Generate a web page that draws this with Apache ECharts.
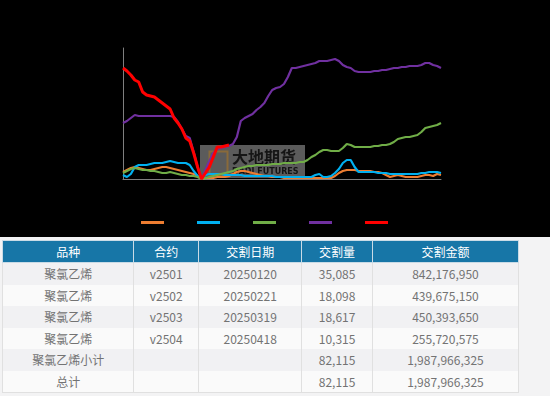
<!DOCTYPE html>
<html>
<head>
<meta charset="utf-8">
<script src="https://cdn.jsdelivr.net/npm/echarts@6/dist/echarts.min.js"></script>
<style>
  html, body { margin: 0; padding: 0; width: 550px; height: 396px; background: #f3f3f4; overflow: hidden; }
  #chart { width: 550px; height: 237px; background: #000; }
  #tbl { position: absolute; left: 2px; top: 240px; width: 517px; border-collapse: collapse;
         font-family: "Noto Sans CJK SC", "Noto Sans", sans-serif; font-size: 12px; color: #737373; }
  #tbl th { background: #1776a7; color: #fff; font-weight: normal; height: 21px; padding: 0;
            border: 1px solid #c9dbe6; text-align: center; }
  #tbl td { height: 21.5px; padding: 0; text-align: center; border-left: 1px solid #e0e0e0; border-right: 1px solid #e0e0e0; }
  #tbl tr:last-child td { border-bottom: 1px solid #e0e0e0; }
  #tbl tr.odd td { background: #f1f1f3; }
  #tbl tr.even td { background: #fafafa; }
</style>
</head>
<body>
<div id="chart"></div>
<table id="tbl"></table>
<script>
// ---------- chart data ----------
const xIndex = Array.from({length: 82}, (_, i) => String(i + 1));
const seriesNames = ['系列1', '系列2', '系列3', '系列4', '系列5'];
const seriesColors = ['#ED7D31', '#00B0F0', '#70AD47', '#7030A0', '#FF0000'];
const orangeValues = [7,9,11,12,11,10,9,9,10,11,12,12,11,10,9,8,7,6,5,3,0,
  1,1,1,2,2,2,3,5,7,8,8,7,6,5,4,3,3,2,2,2,1,1,1,1,1,1,1,1,1,1,1,1,1,3,6,8,9,9,9,8,8,8,8,7,7,6,4,2,3,4,3,2,2,2,2,3,4,4,3,5,4];
const blueValues = [4,2,5,12,14,14,14,15,16,16,16,17,18,17,16,16,16,14,8,3,0,
  4,5,5,5,5,4,4,4,4,4,3,3,3,3,3,3,3,3,2,2,2,2,2,2,2,2,2,2,4,5,2,2,3,6,10,16,19,19,12,7,7,7,7,7,6,6,6,5,5,5,5,5,5,5,5,6,6,7,7,7,6];
const greenValues = [6,8,10,11,10,9,9,8,8,7,6,6,7,6,5,4,4,3,3,2,0,
  1,2,3,4,5,6,7,8,10,11,12,13,13,14,14,14,14,15,15,15,16,16,16,16,17,17,19,22,24,27,29,29,28,28,28,31,35,34,32,32,32,32,32,33,33,34,34,35,37,40,41,42,42,43,44,47,51,52,53,54,56];
const purpleValues = [56,58,61,64,63,63,63,63,63,63,63,63,63,62,57,50,43,41,27,12,0,
  9,18,26,30,31,32,33,35,42,58,61,63,65,69,72,76,83,89,91,92,95,102,111,111,112,113,114,115,116,118,118,118,119,120,118,114,112,111,108,107,107,107,107,108,108,109,109,110,111,111,112,112,113,113,113,114,116,116,114,113,111];
const redValues = [111,108,104,99,97,87,84,83,82,79,76,73,70,61,56,50,41,38,26,12,0,
  6,12,22,32,32,33,34];

// ---------- table data ----------
const tableHeaders = ['品种', '合约', '交割日期', '交割量', '交割金额'];
const colVariety = ['聚氯乙烯', '聚氯乙烯', '聚氯乙烯', '聚氯乙烯', '聚氯乙烯小计', '总计'];
const colContract = ['v2501', 'v2502', 'v2503', 'v2504', '', ''];
const colDate = ['20250120', '20250221', '20250319', '20250418', '', ''];
const colVolume = ['35,085', '18,098', '18,617', '10,315', '82,115', '82,115'];
const colAmount = ['842,176,950', '439,675,150', '450,393,650', '255,720,575', '1,987,966,325', '1,987,966,325'];
const colWidths = [132, 64, 103, 70, 146];

// ---------- build chart ----------
const allValues = [orangeValues, blueValues, greenValues, purpleValues, redValues];
const chart = echarts.init(document.getElementById('chart'), null, {renderer: 'canvas'});
chart.setOption({
  backgroundColor: '#000',
  animation: false,
  grid: { left: 123, right: 109, top: 48, bottom: 58 },
  legend: {
    bottom: 8, left: 136,
    icon: 'rect', itemWidth: 23, itemHeight: 3, itemGap: 33,
    formatter: () => '',
    textStyle: { color: '#000', fontSize: 1 },
    data: seriesNames
  },
  xAxis: {
    type: 'category', data: xIndex, boundaryGap: false,
    axisLine: { lineStyle: { color: '#7f7f7f', width: 1 } },
    axisTick: { show: false }, axisLabel: { show: false }, splitLine: { show: false }
  },
  yAxis: {
    type: 'value', min: 0, max: 131,
    axisLine: { show: true, lineStyle: { color: '#7f7f7f', width: 1 } },
    axisTick: { show: false }, axisLabel: { show: false }, splitLine: { show: false }
  },
  graphic: [
    { type: 'rect', left: 200, top: 145, z: 0, shape: { width: 105, height: 33 },
      style: { fill: '#5b5b5b' } },
    { type: 'rect', left: 207, top: 149, z: 0, shape: { width: 18, height: 24 },
      style: { fill: 'none', stroke: '#8a6a3a', lineWidth: 2 } },
    { type: 'text', left: 232, top: 149, z: 0,
      style: { text: '大地期货', fill: '#151515', font: 'bold 16px "Noto Sans CJK SC"' } },
    { type: 'text', left: 232, top: 168, z: 0,
      style: { text: 'DADI FUTURES', fill: '#151515', font: 'bold 8px "DejaVu Sans"' } }
  ],
  series: seriesNames.map((n, k) => ({
    name: n, type: 'line', data: allValues[k], showSymbol: false, z: 5,
    lineStyle: { color: seriesColors[k], width: k === 4 ? 3 : 2.2 },
    itemStyle: { color: seriesColors[k] }
  }))
});

// ---------- build table ----------
const tbl = document.getElementById('tbl');
let html = '<tr>' + tableHeaders.map((h, i) => `<th style="width:${colWidths[i]}px">${h}</th>`).join('') + '</tr>';
for (let r = 0; r < colVariety.length; r++) {
  html += `<tr class="${r % 2 === 0 ? 'odd' : 'even'}"><td>${colVariety[r]}</td><td>${colContract[r]}</td><td>${colDate[r]}</td><td>${colVolume[r]}</td><td>${colAmount[r]}</td></tr>`;
}
tbl.innerHTML = html;
</script>
</body>
</html>
